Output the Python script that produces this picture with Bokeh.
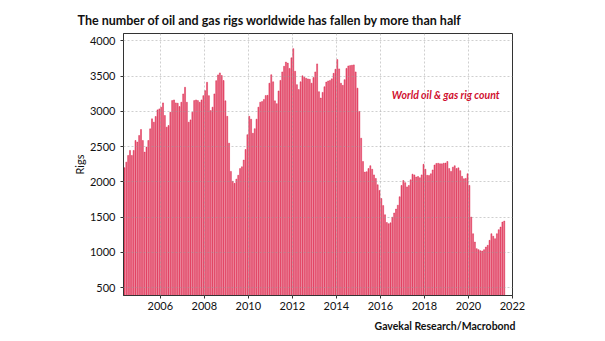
from bokeh.plotting import figure
from bokeh.models import FixedTicker, Range1d, Label, Title, ColumnDataSource
from bokeh.embed import file_html
from bokeh.resources import INLINE

# Monthly world oil & gas rig count, May 2004 .. Aug 2021
start_year = 2004
start_month = 5
rigs_2004 = [2202, 2281, 2376, 2447, 2376, 2447, 2588, 2565]
rigs_2005 = [2659, 2744, 2588, 2423, 2494, 2588, 2753, 2895, 2848, 2928, 3022, 3036]
rigs_2006 = [3060, 3121, 2942, 2777, 2800, 2989, 3154, 3163, 3121, 3116, 3069, 3130]
rigs_2007 = [3248, 3342, 3130, 2848, 2880, 2989, 3154, 3163, 3154, 3130, 3163, 3224]
rigs_2008 = [3295, 3413, 3224, 3012, 3060, 3248, 3436, 3518, 3546, 3509, 3438, 3150]
rigs_2009 = [2930, 2550, 2150, 2010, 1980, 2040, 2095, 2190, 2215, 2310, 2460, 2670]
rigs_2010 = [2930, 2890, 2690, 2755, 2890, 3060, 3131, 3140, 3170, 3225, 3228, 3400]
rigs_2011 = [3520, 3420, 3150, 3110, 3290, 3440, 3560, 3640, 3700, 3685, 3610, 3760]
rigs_2012 = [3890, 3570, 3380, 3310, 3420, 3505, 3485, 3470, 3461, 3455, 3400, 3480]
rigs_2013 = [3560, 3674, 3280, 3190, 3270, 3350, 3416, 3432, 3440, 3462, 3540, 3598]
rigs_2014 = [3735, 3603, 3400, 3370, 3450, 3610, 3645, 3650, 3655, 3660, 3560, 3330]
rigs_2015 = [3000, 2620, 2290, 2140, 2145, 2190, 2230, 2180, 2100, 2050, 1960, 1880]
rigs_2016 = [1765, 1665, 1535, 1425, 1408, 1420, 1500, 1560, 1615, 1670, 1790, 1950]
rigs_2017 = [2020, 1990, 1930, 1950, 2030, 2110, 2100, 2070, 2078, 2060, 2100, 2250]
rigs_2018 = [2180, 2095, 2092, 2116, 2170, 2240, 2262, 2265, 2258, 2257, 2266, 2267]
rigs_2019 = [2290, 2190, 2150, 2210, 2230, 2190, 2200, 2160, 2080, 2045, 2050, 2116]
rigs_2020 = [1951, 1502, 1266, 1148, 1054, 1040, 1025, 1021, 1040, 1077, 1101, 1172]
rigs_2021 = [1266, 1230, 1195, 1266, 1323, 1360, 1431, 1446]

rig_count = (rigs_2004 + rigs_2005 + rigs_2006 + rigs_2007 + rigs_2008 + rigs_2009
             + rigs_2010 + rigs_2011 + rigs_2012 + rigs_2013 + rigs_2014 + rigs_2015
             + rigs_2016 + rigs_2017 + rigs_2018 + rigs_2019 + rigs_2020 + rigs_2021)

# month centres as fractional years
dates = []
y, m = start_year, start_month
for _ in rig_count:
    dates.append(y + (m - 0.5) / 12.0)
    m += 1
    if m > 12:
        m = 1
        y += 1

x_ticks = [2006, 2008, 2010, 2012, 2014, 2016, 2018, 2020, 2022]
y_ticks = [500, 1000, 1500, 2000, 2500, 3000, 3500, 4000]

title_text = "The number of oil and gas rigs worldwide has fallen by more than half"
source_text = "Gavekal Research/Macrobond"
series_label = "World oil & gas rig count"

FONT = "Lato"

src = ColumnDataSource(data=dict(x=dates, top=rig_count))

p = figure(width=605, height=341, output_backend="svg", toolbar_location=None,
           x_range=Range1d(2004.33, 2022.0), y_range=Range1d(390, 4105),
           min_border_left=123, min_border_right=93, min_border_top=33,
           min_border_bottom=46)

p.vbar(x="x", top="top", bottom=0, width=0.55 / 12, source=src,
       fill_color="#e9627c", line_color="#d8143e", line_width=0.45)

p.outline_line_color = "#333333"
p.outline_line_width = 1

# grids on top of bars, dashed
for g in (p.xgrid, p.ygrid):
    g.level = "overlay"
    g.grid_line_color = "#9a9a9a"
    g.grid_line_alpha = 0.6
    g.grid_line_dash = "2 2"
    g.grid_line_width = 0.8
p.xgrid.ticker = FixedTicker(ticks=x_ticks)
p.ygrid.ticker = FixedTicker(ticks=y_ticks)

p.xaxis.ticker = FixedTicker(ticks=x_ticks)
p.yaxis.ticker = FixedTicker(ticks=y_ticks)
for ax in (p.xaxis, p.yaxis):
    ax.major_label_text_font = FONT
    ax.major_label_text_font_size = "11px"
    ax.major_label_text_color = "#111111"
    ax.axis_line_color = "#333333"
    ax.major_tick_line_color = "#333333"
    ax.major_tick_out = 3
    ax.major_tick_in = 0
    ax.minor_tick_out = 0
    ax.minor_tick_in = 0
p.xaxis.major_label_standoff = 3
p.yaxis.major_label_standoff = 5
p.yaxis.axis_label = "Rigs"
p.yaxis.axis_label_text_font = FONT
p.yaxis.axis_label_text_font_style = "normal"
p.yaxis.axis_label_text_font_size = "11px"
p.yaxis.axis_label_text_color = "#111111"
p.yaxis.axis_label_standoff = 1

p.title.text = title_text
p.title.text_font = FONT
p.title.text_font_size = "12.5px"
p.title.text_font_style = "bold"
p.title.text_color = "#111111"
p.title.align = "left"
p.title.offset = -46
p.title.standoff = 12

p.add_layout(Title(text=source_text, align="right", text_font=FONT,
                   text_font_size="10.5px", text_font_style="bold",
                   text_color="#111111", offset=-3), "below")

p.add_layout(Label(x=2016.52, y=3240, text=series_label, text_font=FONT,
                   text_font_size="10.5px", text_font_style="bold italic",
                   text_color="#d0102f", text_baseline="middle"))

open("out.html", "w").write(file_html(p, INLINE))
